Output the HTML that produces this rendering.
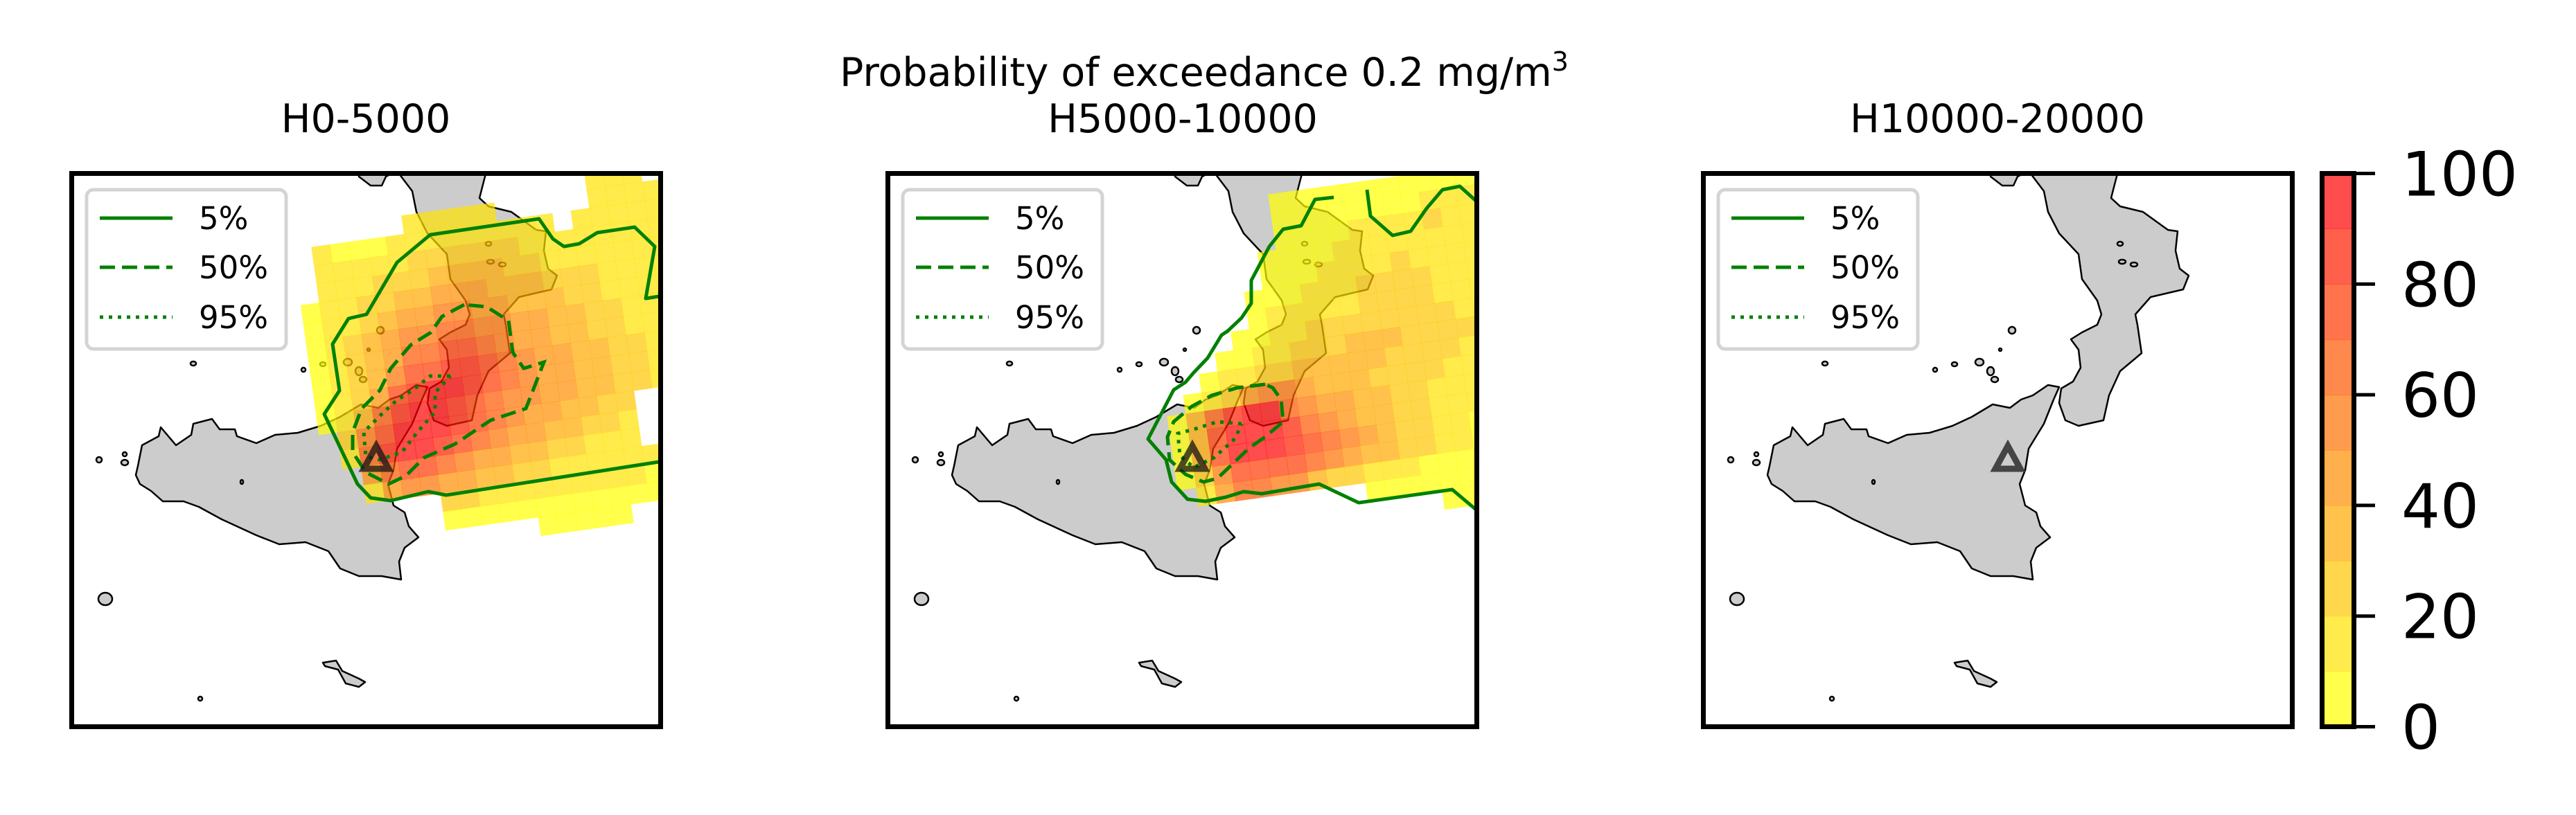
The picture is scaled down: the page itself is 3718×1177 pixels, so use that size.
<!DOCTYPE html>
<html><head><meta charset="utf-8"><style>
html,body{margin:0;padding:0;background:#fff;}
body{width:3718px;height:1177px;position:relative;overflow:hidden;font-family:"DejaVu Sans","Liberation Sans",sans-serif;}
.t{position:absolute;font-size:57px;color:#000;text-align:center;white-space:nowrap;line-height:1;}
svg{position:absolute;}
</style></head><body>
<div class="t" style="left:1212px;width:1000px;top:77px;">Probability of exceedance 0.2 mg/m<sup style="font-size:38px;vertical-align:22px;line-height:0">3</sup></div>
<div class="t" style="left:28px;width:1000px;top:144px;">H0-5000</div>
<div class="t" style="left:1207px;width:1000px;top:144px;">H5000-10000</div>
<div class="t" style="left:2383px;width:1000px;top:144px;">H10000-20000</div>
<div id="root"></div>
<script>
// ---- data ----
const P1_ROWS = [
"................111..",
"......11111.....1111.",
".1000111111111.11111.",
".1111122222211111111",
".11122233332211111111",
"011223344433322211111",
"011234455443332211111",
"012345566554433221111",
"012346677654433221111",
"012357788765443322111",
"01247899876544332211.",
"0136899876554433221..",
".2579998765443322....",
".1689987654433221....",
"..467765443322111....",
"..1455443322111111...",
"......2211111111100..",
"......000000000000...",
"...........00000....."
];
const P2_ROWS = [
".......00000000000..",
".......0000000011110",
".......0000111121110",
"......00001111111100",
"......00011112111110",
".....000111222211110",
".....01111122221110.",
"....0011222222221110",
"...001122233322221110",
"..0112233333222211100",
".01245543332222111000",
"03689965443322111000.",
"0379998654332211100..",
"037999876543221100...",
"0257777654332211000..",
".14665532211100000...",
"..........0000000000.",
"..............000000."
];
const P3_ROWS = [];
const CB_LEVELS = [0,10,20,30,40,50,60,70,80,90,100];
const CB_TICKS = [0,20,40,60,80,100];
const P1_C5 = [[851,420],[544,468],[518,463],[464,476],[435,472],[416,452],[397,412],[368,351],[390,317],[380,250],[403,213],[429,207],[473,132],[521,92],[678,69],[698,98],[714,109],[736,105],[762,89],[816,81],[845,109],[832,184],[851,181],[860,181]];
const P1_C50 = [[570,193],[538,210],[522,233],[493,251],[464,285],[448,317],[422,343],[409,377],[409,406],[428,435],[461,452],[486,440],[512,414],[557,394],[608,360],[659,343],[675,302],[685,276],[656,285],[640,262],[634,216],[602,196],[570,193]];
const P1_C95 = [[550,296],[521,296],[499,314],[473,331],[454,348],[425,377],[428,412],[448,417],[480,406],[505,374],[528,348],[528,320],[550,296]];
const P2_C5a = [[647,38],[620,41],[600,79],[574,84],[554,109],[528,158],[528,191],[514,212],[494,231],[485,237],[465,270],[445,291],[433,305],[416,316],[379,387],[405,417],[413,449],[436,474],[462,477],[491,471],[517,463],[543,466],[626,452],[683,479],[818,460],[850,487],[860,495]];
const P2_C5b = [[695,27],[700,65],[732,93],[758,87],[781,54],[804,27],[829,22],[850,41],[860,50]];
const P2_C50 = [[548,308],[508,313],[471,324],[442,340],[416,362],[407,384],[410,417],[433,438],[459,449],[479,444],[502,422],[525,400],[548,384],[574,362],[571,330],[559,313],[548,308]];
const P2_C95 = [[514,365],[479,362],[445,373],[422,379],[425,411],[445,428],[474,414],[502,389],[511,373],[514,365]];

const SICILY=[[99,426],[105,396],[129,383],[132,370],[154,396],[176,381],[179,365],[206,358],[217,373],[239,373],[242,383],[270,393],[297,381],[330,378],[363,368],[391,355],[421,337],[446,342],[462,330],[479,324],[501,309],[517,312],[509,330],[495,365],[473,401],[468,432],[460,452],[468,483],[484,493],[490,513],[504,529],[484,544],[476,564],[479,590],[451,585],[418,585],[391,574],[374,549],[341,536],[303,539],[270,526],[220,503],[187,485],[165,477],[135,477],[118,462],[102,452],[96,439]];
const CALABRIA=[[418,0],[418,8],[435,21],[451,21],[457,8],[473,0],[495,29],[501,59],[517,90],[545,120],[550,156],[572,187],[578,207],[572,222],[550,233],[534,243],[545,258],[548,284],[537,304],[520,314],[517,335],[526,360],[545,368],[581,360],[589,324],[605,289],[636,263],[630,222],[627,207],[649,182],[696,171],[704,151],[691,141],[685,115],[688,87],[674,85],[638,59],[605,51],[592,39],[600,8],[603,0]];
const MALTA=[[366,710],[385,707],[394,722],[418,733],[427,738],[418,745],[399,740],[388,720],[369,715]];
const ISLES=[[52,618,10,9],[449,230,5,5],[432,258,2,2],[402,276,6,5],[418,289,5,6],[424,301,5,4],[366,279,4,3],[338,287,3,3],[179,278,4,3],[43,417,4,4],[80,421,5,4],[80,409,3,3],[189,762,3,3],[249,449,2,3],[605,105,4,3],[608,131,5,3],[625,135,5,3]];

const NS="http://www.w3.org/2000/svg";
function el(tag,attrs,parent){const e=document.createElementNS(NS,tag);for(const k in attrs)e.setAttribute(k,attrs[k]);if(parent)parent.appendChild(e);return e;}
function pts(a){return a.map(p=>p.join(',')).join(' ');}
function levelColor(k){return 'rgba(255,'+Math.round(255*(1-k/9))+',0,0.7)';}

const root=document.getElementById('root');
const W=857,H=806;
const panels=[
 {x:100,rows:P1_ROWS,ox:315,oy:60,c5:[P1_C5],c50:P1_C50,c95:P1_C95,vent:'dark',name:'map-panel-h0-5000'},
 {x:1278,rows:P2_ROWS,ox:365,oy:60,c5:[P2_C5a,P2_C5b],c50:P2_C50,c95:P2_C95,vent:'dark',name:'map-panel-h5000-10000'},
 {x:2455,rows:P3_ROWS,ox:0,oy:0,c5:[],c50:null,c95:null,vent:'gray',name:'map-panel-h10000-20000'}
];
panels.forEach(p=>{
  const s=el('svg',{width:W,height:H,viewBox:'0 0 '+W+' '+H},root);
  s.style.left=p.x+'px';s.style.top='247px';
  
  
  const land=el('g',{fill:'#cccccc',stroke:'#000','stroke-width':2.5,'stroke-linejoin':'round'},s);
  
  
  const si=el('polygon',{points:pts(SICILY)},land);
  
  
  const ca=el('polygon',{points:pts(CALABRIA)},land);
  
  
  const ma=el('polygon',{points:pts(MALTA)},land);
  
  
  ISLES.forEach(i=>{const e=el('ellipse',{cx:i[0],cy:i[1],rx:i[2],ry:i[3]},land);
    
    });
  const g=el('g',{transform:'translate('+p.ox+','+p.oy+') rotate(-8)'},s);
  
  
  p.rows.forEach((r,i)=>{[...r].forEach((c,j)=>{
    if(c==='.')return;
    const rc=el('rect',{x:j*27,y:i*27,width:27.5,height:27.5,fill:levelColor(+c)},g);
    
    
  });});
  p.c5.forEach(c=>{const l=el('polyline',{points:pts(c),fill:'none',stroke:'#008000','stroke-width':5,'stroke-linejoin':'round'},s);
    
    });
  if(p.c50){const l=el('polyline',{points:pts(p.c50),fill:'none',stroke:'#008000','stroke-width':5,'stroke-dasharray':'22 10'},s);
    
    }
  if(p.c95){const l=el('polyline',{points:pts(p.c95),fill:'none',stroke:'#008000','stroke-width':5,'stroke-dasharray':'5 8'},s);
    
    }
  const vc=p.vent==='dark'?'rgba(20,20,20,0.75)':'#444';
  const tri=el('polygon',{points:'443,397 425,430 461,430',fill:'none',stroke:vc,'stroke-width':9,'stroke-linejoin':'miter'},s);
  
  
  const lg=el('g',{},s);
  
  
  el('rect',{x:25,y:27,width:288,height:230,rx:10,fill:'rgba(255,255,255,0.85)',stroke:'#d4d4d4','stroke-width':5},lg);
  const ents=[['5%',null,68],['50%','22 10',139],['95%','5 8',211]];
  ents.forEach(e=>{
    const ln=el('line',{x1:44,x2:149,y1:e[2],y2:e[2],stroke:'#008000','stroke-width':5},lg);
    if(e[1])ln.setAttribute('stroke-dasharray',e[1]);
    
    
    const t=el('text',{x:187,y:e[2]+16,'font-size':45,'font-family':'DejaVu Sans, Liberation Sans, sans-serif',fill:'#000'},lg);
    t.textContent=e[0];
    
    
  });
  const fr=el('rect',{x:3.5,y:3.5,width:W-7,height:H-7,fill:'none',stroke:'#000','stroke-width':7},s);
  
  
});

const cb=el('svg',{width:300,height:1177,viewBox:'0 0 300 1177'},root);
cb.style.left='3340px';cb.style.top='0px';


const y0=1049.5,y1=250.5;
function cy(v){return y0-(v/100)*(y0-y1);}
for(let k=0;k<CB_LEVELS.length-1;k++){
  const r=el('rect',{x:11,y:cy(CB_LEVELS[k+1]),width:44,height:cy(CB_LEVELS[k])-cy(CB_LEVELS[k+1])+0.5,fill:levelColor(k)},cb);
  
  
}
el('rect',{x:11.5,y:250.5,width:46,height:799,fill:'none',stroke:'#000','stroke-width':7},cb);
CB_TICKS.forEach(v=>{
  const tk=el('line',{x1:58,x2:88,y1:cy(v),y2:cy(v),stroke:'#000','stroke-width':5},cb);
  
  
  const t=el('text',{x:126,y:cy(v)+32,'font-size':88,'font-family':'DejaVu Sans, Liberation Sans, sans-serif',fill:'#000'},cb);
  t.textContent=String(v);
  
  
});
</script>
</body></html>
